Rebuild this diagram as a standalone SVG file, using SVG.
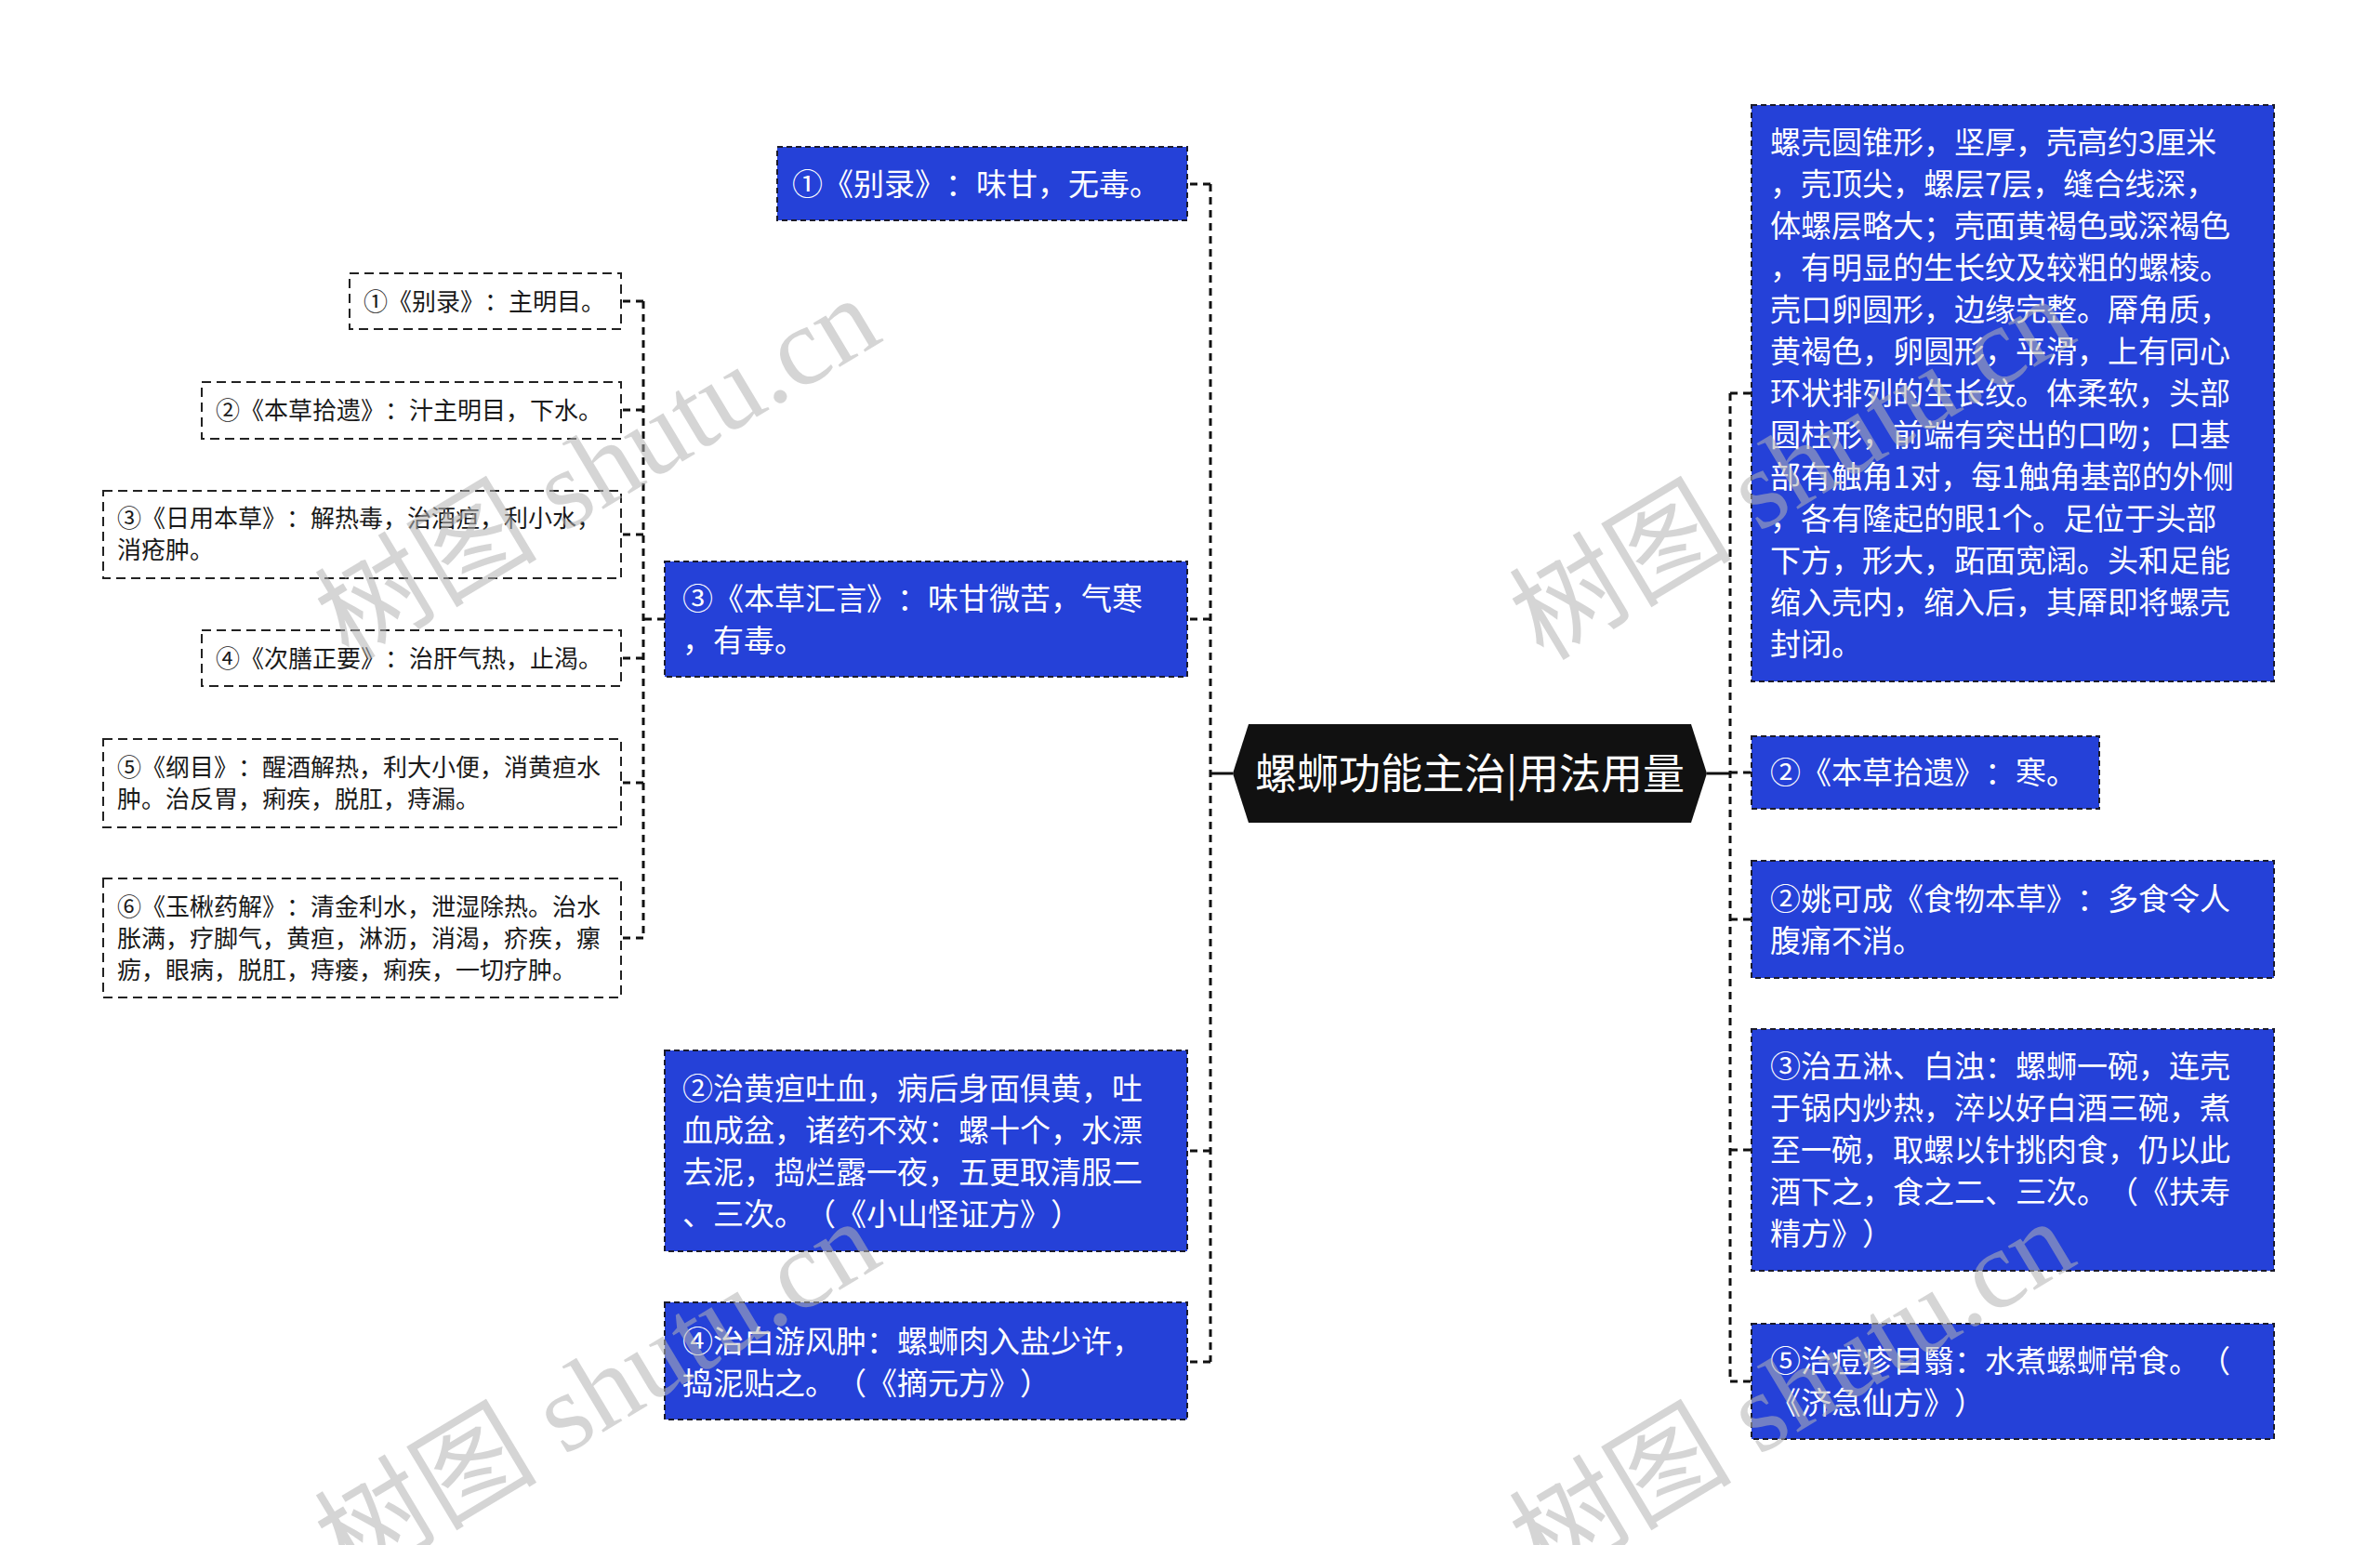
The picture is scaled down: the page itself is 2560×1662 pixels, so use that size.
<svg xmlns="http://www.w3.org/2000/svg" width="2560" height="1662" viewBox="0 0 2560 1662">
<style>
text{text-spacing-trim:space-all;font-kerning:none}
.blue{fill:#2541d8;stroke:#1b1b2b;stroke-width:2;stroke-dasharray:6 4}
.wbox{fill:#ffffff;stroke:#222;stroke-width:2;stroke-dasharray:10 6}
.bt{fill:#ffffff;font-size:33px;font-family:"Noto Sans CJK SC","Noto Sans",sans-serif}
.wt{fill:#1a1a1a;font-size:26px;font-family:"Noto Sans CJK SC","Noto Sans",sans-serif}
.ct{fill:#ffffff;font-size:45px;font-family:"Noto Sans CJK SC","Noto Sans",sans-serif}
.conn{fill:none;stroke:#111;stroke-width:3;stroke-dasharray:8 6}
.solid{fill:none;stroke:#111;stroke-width:3}
.wm{fill:#b4b4b4;opacity:0.55;font-size:120px;font-family:"Liberation Serif","Noto Sans CJK SC",serif}
</style>
<rect width="2560" height="1662" fill="#ffffff"/>

<g id="connectors">
  <path class="solid" d="M1326 832 H1302"/>
  <path class="conn" d="M1302 198 V1465"/>
  <path class="conn" d="M1302 198 H1277 M1302 666 H1277 M1302 1238 H1277 M1302 1465 H1277"/>
  <path class="solid" d="M1836 832 H1861"/>
  <path class="conn" d="M1861 423 V1486"/>
  <path class="conn" d="M1861 423 H1884 M1861 831 H1884 M1861 989 H1884 M1861 1237 H1884 M1861 1486 H1884"/>
  <path class="conn" d="M692 324 V1009"/>
  <path class="conn" d="M715 666 H692 M692 324 H668 M692 441 H668 M692 575 H668 M692 708 H668 M692 842 H668 M692 1009 H668"/>
</g>

<g id="center">
  <polygon points="1326,832 1343,779 1819,779 1836,832 1819,885 1343,885" fill="#111111"/>
  <text class="ct" x="1581" y="849" text-anchor="middle">螺蛳功能主治|用法用量</text>
</g>

<g id="L1">
  <rect class="blue" x="836" y="158" width="441" height="79"/>
  <text class="bt" x="852" y="210">①《别录》：味甘，无毒。</text>
</g>
<g id="L2">
  <rect class="blue" x="715" y="604" width="562" height="124"/>
  <text class="bt" x="734" y="656">③《本草汇言》：味甘微苦，气寒</text>
  <text class="bt" x="734" y="701">，有毒。</text>
</g>
<g id="L3">
  <rect class="blue" x="715" y="1130" width="562" height="216"/>
  <text class="bt" x="734" y="1183">②治黄疸吐血，病后身面俱黄，吐</text>
  <text class="bt" x="734" y="1228">血成盆，诸药不效：螺十个，水漂</text>
  <text class="bt" x="734" y="1273">去泥，捣烂露一夜，五更取清服二</text>
  <text class="bt" x="734" y="1318">、三次。（《小山怪证方》）</text>
</g>
<g id="L4">
  <rect class="blue" x="715" y="1401" width="562" height="126"/>
  <text class="bt" x="734" y="1455">④治白游风肿：螺蛳肉入盐少许，</text>
  <text class="bt" x="734" y="1500">捣泥贴之。（《摘元方》）</text>
</g>

<g id="S1">
  <rect class="wbox" x="376" y="294" width="292" height="60"/>
  <text class="wt" x="391" y="334">①《别录》：主明目。</text>
</g>
<g id="S2">
  <rect class="wbox" x="217" y="411" width="451" height="61"/>
  <text class="wt" x="232" y="451">②《本草拾遗》：汁主明目，下水。</text>
</g>
<g id="S3">
  <rect class="wbox" x="111" y="528" width="557" height="94"/>
  <text class="wt" x="126" y="567">③《日用本草》：解热毒，治酒疸，利小水，</text>
  <text class="wt" x="126" y="601">消疮肿。</text>
</g>
<g id="S4">
  <rect class="wbox" x="217" y="678" width="451" height="60"/>
  <text class="wt" x="232" y="718">④《次膳正要》：治肝气热，止渴。</text>
</g>
<g id="S5">
  <rect class="wbox" x="111" y="795" width="557" height="95"/>
  <text class="wt" x="126" y="835">⑤《纲目》：醒酒解热，利大小便，消黄疸水</text>
  <text class="wt" x="126" y="869">肿。治反胃，痢疾，脱肛，痔漏。</text>
</g>
<g id="S6">
  <rect class="wbox" x="111" y="945" width="557" height="128"/>
  <text class="wt" x="126" y="985">⑥《玉楸药解》：清金利水，泄湿除热。治水</text>
  <text class="wt" x="126" y="1019">胀满，疗脚气，黄疸，淋沥，消渴，疥疾，瘰</text>
  <text class="wt" x="126" y="1053">疬，眼病，脱肛，痔瘘，痢疾，一切疗肿。</text>
</g>

<g id="R1">
  <rect class="blue" x="1884" y="113" width="562" height="620"/>
  <text class="bt" x="1904" y="165">螺壳圆锥形，坚厚，壳高约3厘米</text>
  <text class="bt" x="1904" y="210">，壳顶尖，螺层7层，缝合线深，</text>
  <text class="bt" x="1904" y="255">体螺层略大；壳面黄褐色或深褐色</text>
  <text class="bt" x="1904" y="300">，有明显的生长纹及较粗的螺棱。</text>
  <text class="bt" x="1904" y="345">壳口卵圆形，边缘完整。厣角质，</text>
  <text class="bt" x="1904" y="390">黄褐色，卵圆形，平滑，上有同心</text>
  <text class="bt" x="1904" y="435">环状排列的生长纹。体柔软，头部</text>
  <text class="bt" x="1904" y="480">圆柱形，前端有突出的口吻；口基</text>
  <text class="bt" x="1904" y="525">部有触角1对，每1触角基部的外侧</text>
  <text class="bt" x="1904" y="570">，各有隆起的眼1个。足位于头部</text>
  <text class="bt" x="1904" y="615">下方，形大，跖面宽阔。头和足能</text>
  <text class="bt" x="1904" y="660">缩入壳内，缩入后，其厣即将螺壳</text>
  <text class="bt" x="1904" y="705">封闭。</text>
</g>
<g id="R2">
  <rect class="blue" x="1884" y="792" width="374" height="78"/>
  <text class="bt" x="1904" y="843">②《本草拾遗》：寒。</text>
</g>
<g id="R3">
  <rect class="blue" x="1884" y="926" width="562" height="126"/>
  <text class="bt" x="1904" y="979">②姚可成《食物本草》：多食令人</text>
  <text class="bt" x="1904" y="1024">腹痛不消。</text>
</g>
<g id="R4">
  <rect class="blue" x="1884" y="1107" width="562" height="260"/>
  <text class="bt" x="1904" y="1159">③治五淋、白浊：螺蛳一碗，连壳</text>
  <text class="bt" x="1904" y="1204">于锅内炒热，淬以好白酒三碗，煮</text>
  <text class="bt" x="1904" y="1249">至一碗，取螺以针挑肉食，仍以此</text>
  <text class="bt" x="1904" y="1294">酒下之，食之二、三次。（《扶寿</text>
  <text class="bt" x="1904" y="1339">精方》）</text>
</g>
<g id="R5">
  <rect class="blue" x="1884" y="1424" width="562" height="124"/>
  <text class="bt" x="1904" y="1476">⑤治痘疹目翳：水煮螺蛳常食。（</text>
  <text class="bt" x="1904" y="1521">《济急仙方》）</text>
</g>

<g id="watermarks">
  <text class="wm" transform="translate(375,712) rotate(-31)">树图 shutu.cn</text>
  <text class="wm" transform="translate(1660,712) rotate(-31)">树图 shutu.cn</text>
  <text class="wm" transform="translate(375,1705) rotate(-31)">树图 shutu.cn</text>
  <text class="wm" transform="translate(1660,1705) rotate(-31)">树图 shutu.cn</text>
</g>
</svg>
